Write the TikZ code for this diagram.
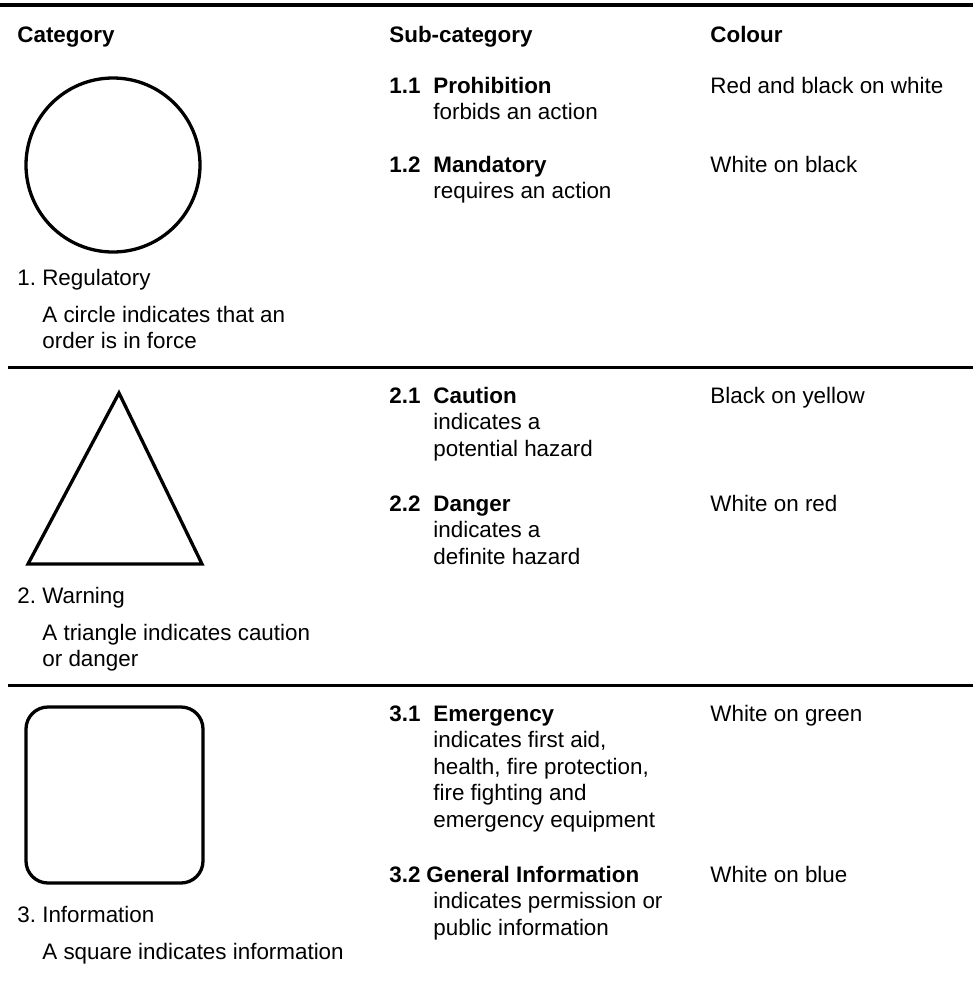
\documentclass[tikz,border=0pt]{standalone}
\usepackage{fontspec}
\setmainfont{Liberation Sans}
\frenchspacing
\newcommand\bodyfont{\fontsize{11.2}{13.25}\selectfont}
% lines of a text, first baseline on the node's base
\newcommand\rows[1]{\begin{tabular}[t]{@{}l@{}}#1\end{tabular}}
\tikzset{
  txt/.style={anchor=base west, inner sep=0pt, font=\bodyfont},
  head/.style={txt, font=\bodyfont\bfseries},
  rule/.style={line width=1.5pt},
  sign/.style={line width=1.65pt, line join=miter},
}
\begin{document}
\begin{tikzpicture}[x=0.5pt,y=-0.5pt]
\useasboundingbox (0,0) rectangle (973,986);
% rules
\draw[rule, line width=1.75pt] (0,5) -- (973,5);
\draw[rule] (8,367) -- (973,367);
\draw[rule] (8,685) -- (973,685);
% column heads
\node[head] (hcat) at (17,42) {Category};
\node[head] (hsub) at (389,42) {Sub-category};
\node[head] (hcol) at (710,42) {Colour};
% signs
\draw[sign] (113,165) circle (43.5pt);
\draw[sign] (119,393) -- (202,564) -- (28,564) -- cycle;
\draw[sign, rounded corners=11pt] (26,707) rectangle (203,883);
% categories
\foreach \k/\y/\cat/\desc in {
  reg/285/1. Regulatory/{A circle indicates that an\\order is in force},
  warn/603/2. Warning/{A triangle indicates caution\\or danger},
  info/922/3. Information/{A square indicates information}}
{
  \node[txt] (\k) at (17,\y) {\cat};
  \node[txt] (\k d) at (42,\y+37) {\rows{\desc}};
}
% sub-categories and colours
\foreach \k/\y/\num/\nx/\name/\desc/\col in {
  a/93/1.1/433/Prohibition/{forbids an action}/{Red and black on white},
  b/172/1.2/433/Mandatory/{requires an action}/{White on black},
  c/403/2.1/433/Caution/{indicates a\\potential hazard}/{Black on yellow},
  d/511/2.2/433/Danger/{indicates a\\definite hazard}/{White on red},
  e/721/3.1/433/Emergency/{indicates first aid,\\health, fire protection,\\fire fighting and\\emergency equipment}/{White on green},
  f/882/3.2/426/General Information/{indicates permission or\\public information}/{White on blue}}
{
  \node[head] (num\k) at (389,\y) {\num};
  \node[head] (sub\k) at (\nx,\y) {\name};
  \node[txt] (desc\k) at (433,\y+26.5) {\rows{\desc}};
  \node[txt] (col\k) at (710,\y) {\col};
}
\end{tikzpicture}
\end{document}
